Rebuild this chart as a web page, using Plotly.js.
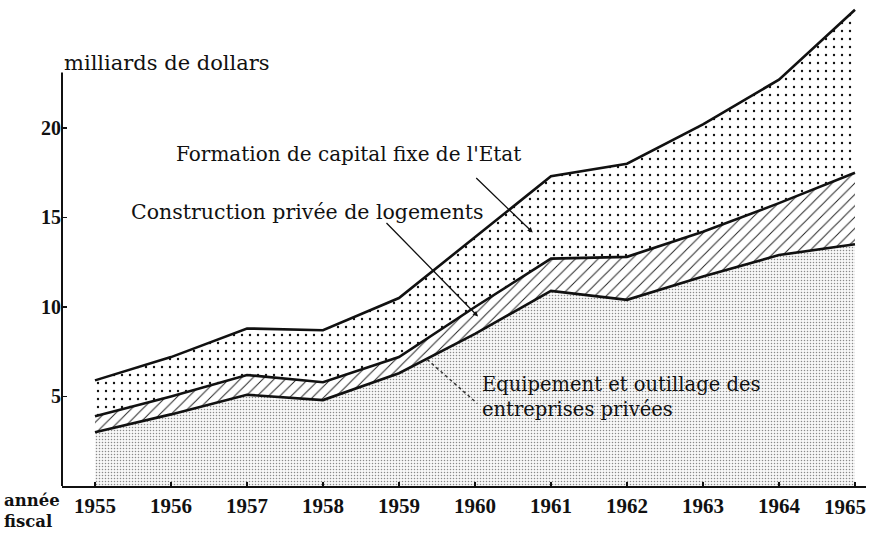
<!DOCTYPE html>
<html>
<head>
<meta charset="utf-8">
<script src="https://cdn.plot.ly/plotly-3.0.1.min.js"></script>
<style>html,body{margin:0;padding:0;background:#fff;}#chart{width:872px;height:534px;}</style>
</head>
<body>
<div id="chart"></div>
<script>
// Years (année fiscale)
const years = [1955, 1956, 1957, 1958, 1959, 1960, 1961, 1962, 1963, 1964, 1965];
const yearLabels = ["1955","1956","1957","1958","1959","1960","1961","1962","1963","1964","1965"];
// milliards de dollars, stacked from the bottom
const equipement   = [3.0, 4.0, 5.1, 4.8, 6.3, 8.5, 10.9, 10.4, 11.7, 12.9, 13.5];
const construction = [0.9, 1.0, 1.1, 1.0, 0.9, 1.5, 1.8, 2.4, 2.5, 2.9, 4.0];
const etat         = [2.0, 2.2, 2.6, 2.9, 3.3, 3.9, 4.6, 5.2, 6.0, 6.9, 9.1];
const yTicks = [5, 10, 15, 20];
const seriesNames = ["Equipement et outillage des entreprises privées",
                     "Construction privée de logements",
                     "Formation de capital fixe de l'Etat"];

const lineStyle = {color: '#111', width: 2.6, shape: 'linear'};
const traces = [
  {x: years, y: equipement, name: seriesNames[0], type: 'scatter', mode: 'lines',
   stackgroup: 'a', line: lineStyle, fillcolor: '#f3f3f3',
   fillpattern: {shape: '.', size: 3, solidity: 0.2, fgcolor: '#8a8a8a', bgcolor: '#f8f8f8'},
   hoverinfo: 'skip'},
  {x: years, y: construction, name: seriesNames[1], type: 'scatter', mode: 'lines',
   stackgroup: 'a', line: lineStyle, fillcolor: '#fff',
   fillpattern: {shape: '/', size: 8, solidity: 0.12, fgcolor: '#222', bgcolor: '#fff'},
   hoverinfo: 'skip'},
  {x: years, y: etat, name: seriesNames[2], type: 'scatter', mode: 'lines',
   stackgroup: 'a', line: lineStyle, fillcolor: '#fff',
   fillpattern: {shape: '.', size: 8, solidity: 0.07, fgcolor: '#111', bgcolor: '#fff'},
   hoverinfo: 'skip'}
];

const serif = 'DejaVu Serif, Liberation Serif, serif';
const tickLabelsShown = yearLabels.map((t, i) => i === yearLabels.length - 1 ? '' : t);
const layout = {
  width: 872, height: 534,
  margin: {l: 62, r: 6, t: 3, b: 48},
  paper_bgcolor: '#fff', plot_bgcolor: '#fff',
  showlegend: false,
  xaxis: {
    range: [1954.566, 1965.145], tickvals: years, ticktext: tickLabelsShown,
    showgrid: false, zeroline: false, showline: true, linecolor: '#111', linewidth: 2,
    ticks: 'inside', ticklen: 4, tickcolor: '#111', tickwidth: 1.5,
    tickfont: {family: 'Liberation Serif, serif', size: 21, color: '#111', weight: 'bold'},
    fixedrange: true
  },
  yaxis: {
    range: [0, 26.98], tickvals: yTicks, ticktext: yTicks.map(String),
    showgrid: false, zeroline: false, showline: false,
    ticks: 'inside', ticklen: 5, tickcolor: '#111', tickwidth: 1.5,
    tickfont: {family: 'Liberation Serif, serif', size: 20, color: '#111', weight: 'bold'},
    fixedrange: true
  },
  shapes: [
    {type: 'line', xref: 'paper', yref: 'y', x0: 0, x1: 0, y0: 0, y1: 23.1,
     line: {color: '#111', width: 2}},
    {type: 'line', xref: 'x', yref: 'y', x0: 1959.37, y0: 7.07, x1: 1960.03, y1: 4.61,
     line: {color: '#333', width: 1.5, dash: 'dot'}}
  ],
  annotations: [
    {text: 'milliards de dollars', xref: 'paper', yref: 'paper', x: 0, y: 1, xanchor: 'left', yanchor: 'middle',
     xshift: 0, yshift: -60, showarrow: false, font: {family: serif, size: 21, color: '#111'}},
    {text: "Formation de capital fixe de l'Etat", xref: 'x', yref: 'y', x: 1958.33, y: 18.52,
     showarrow: false, font: {family: serif, size: 20, color: '#111'}},
    {text: 'Construction privée de logements', xref: 'x', yref: 'y', x: 1957.79, y: 15.33,
     showarrow: false, font: {family: serif, size: 20.5, color: '#111'}},
    {text: 'Equipement et outillage des<br>entreprises privées', xref: 'x', yref: 'y',
     x: 1960.07, y: 4.97, xanchor: 'left', align: 'left', showarrow: false,
     font: {family: serif, size: 19.5, color: '#111'}},
    {text: yearLabels[yearLabels.length - 1], xref: 'x', yref: 'paper', x: years[years.length - 1], y: 0,
     xanchor: 'center', yanchor: 'top', xshift: -10, yshift: -7, showarrow: false,
     font: {family: 'Liberation Serif, serif', size: 21, color: '#111', weight: 'bold'}},
    // pointers
    {xref: 'x', yref: 'y', x: 1960.76, y: 14.16, ax: -58, ay: -56, showarrow: true,
     arrowhead: 2, arrowsize: 0.8, arrowwidth: 1.3, arrowcolor: '#111', text: ''},
    {xref: 'x', yref: 'y', x: 1960.04, y: 9.47, ax: -93, ay: -95, showarrow: true,
     arrowhead: 2, arrowsize: 0.8, arrowwidth: 1.3, arrowcolor: '#111', text: ''},
    {text: '<b>année</b><br><b>fiscal</b>', xref: 'paper', yref: 'paper', x: 0, y: 0,
     xanchor: 'right', yanchor: 'top', xshift: 0, yshift: -3, align: 'left', showarrow: false,
     font: {family: serif, size: 16.5, color: '#111'}}
  ]
};

Plotly.newPlot('chart', traces, layout, {staticPlot: true, displayModeBar: false});
</script>
</body>
</html>
